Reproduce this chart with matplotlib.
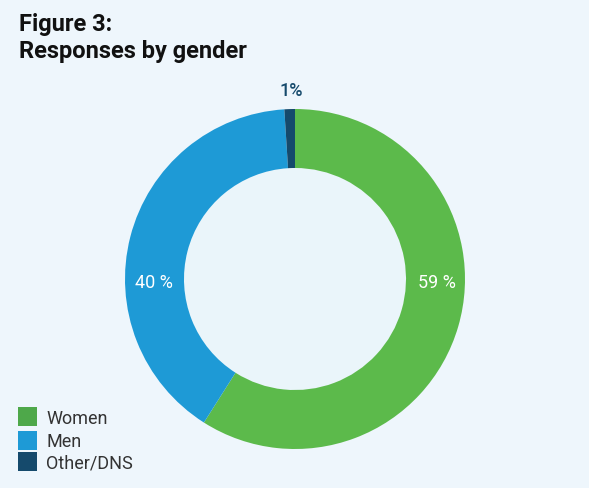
import matplotlib
matplotlib.use("Agg")
import matplotlib.pyplot as plt

categories = ["Women", "Men", "Other/DNS"]
values = [59, 40, 1]
labels = ["59 %", "40 %", "1%"]
colors = ["#5CBA4B", "#1E9AD6", "#154A6C"]
legend_colors = ["#4EA84A", "#1E9AD6", "#154A6C"]

plt.rcParams['font.family'] = ['Roboto', 'DejaVu Sans']
bg = "#EEF6FC"
inner_bg = "#EAF5FA"

W, H = 589, 489
fig = plt.figure(figsize=(W/100, H/100), dpi=100, facecolor=bg)

cx, cy, R = 295, 280, 170
ax = fig.add_axes([(cx-R)/W, (H-cy-R)/H, 2*R/W, 2*R/H])
ax.set_facecolor(bg)
width = 0.347
ax.add_patch(plt.Circle((0, 0), 1 - width, facecolor=inner_bg, edgecolor='none', zorder=0))
ax.pie(values, colors=colors, startangle=90, counterclock=False, radius=1.0,
       wedgeprops=dict(width=width, edgecolor='none'))
ax.set_xlim(-1, 1)
ax.set_ylim(-1, 1)
ax.set_aspect('equal')
ax.axis('off')

ax.text(0.835, -0.02, labels[0], color='white', fontsize=13, ha='center', va='center')
ax.text(-0.83, -0.02, labels[1], color='white', fontsize=13, ha='center', va='center')
ax.text(-0.02, 1.11, labels[2], color=colors[2], fontsize=13, fontweight='medium',
        ha='center', va='center', clip_on=False)

fig.text(19/W, 1-38/H, "Figure 3:\nResponses by gender", fontsize=17, fontweight='bold',
         color='#111111', ha='left', va='center', linespacing=1.2)

# legend
ys = [417.5, 441, 462.5]
for c, lab, y in zip(legend_colors, categories, ys):
    fig.patches.append(plt.Rectangle((18/W, 1-(y+9.5)/H), 19/W, 19/H, transform=fig.transFigure,
                                     facecolor=c, edgecolor='none'))
    fig.text(46/W, 1-(y+1)/H, lab, fontsize=13, color='#333333', ha='left', va='center')

fig.savefig("out.png", dpi=100, facecolor=bg)
